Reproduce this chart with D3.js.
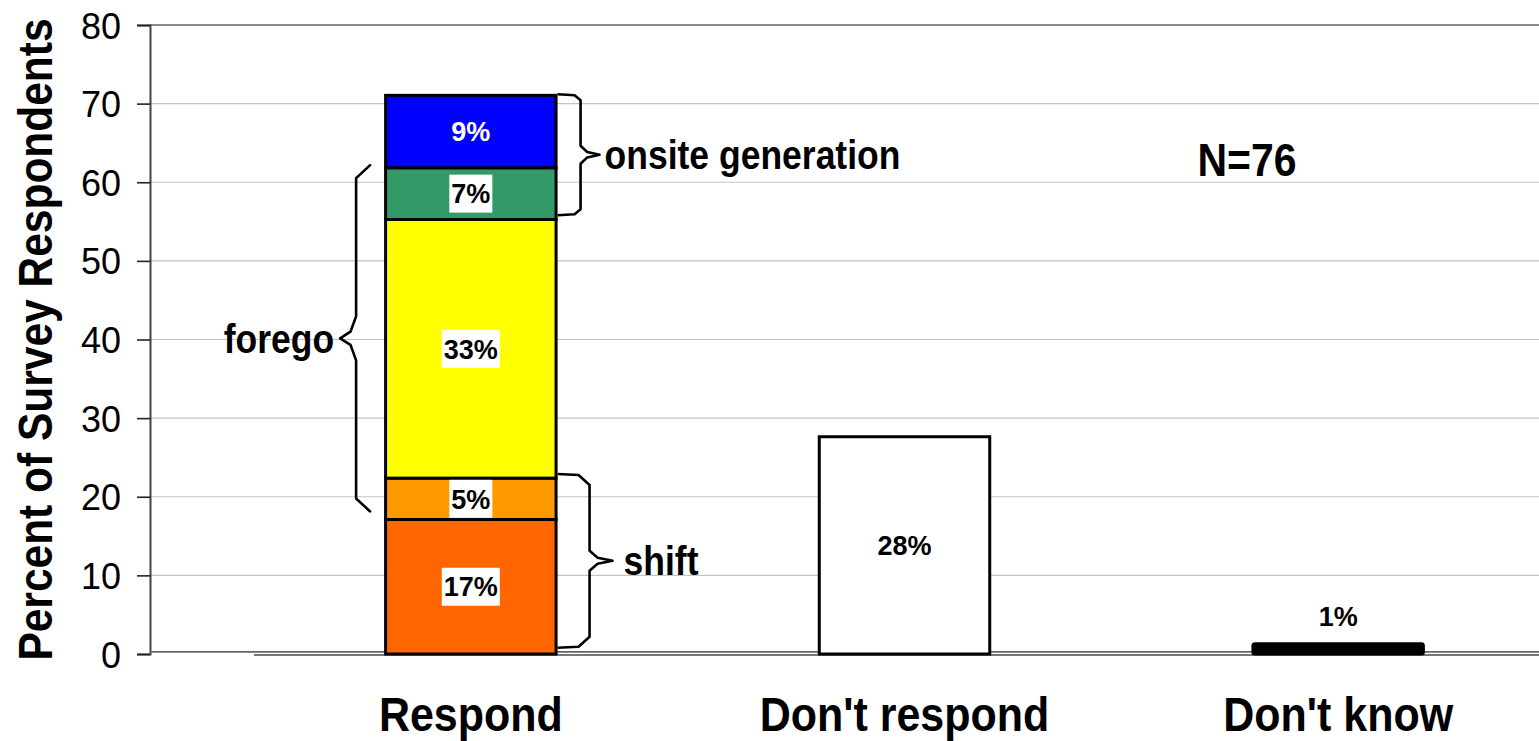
<!DOCTYPE html>
<html>
<head>
<meta charset="utf-8">
<script src="https://cdn.jsdelivr.net/npm/d3@7"></script>
<style>
  html, body { margin: 0; padding: 0; background: #fff; }
  svg { display: block; font-family: "Liberation Sans", Arial, sans-serif; }
</style>
</head>
<body>
<svg id="chart" width="1539" height="741"></svg>
<script>
// Survey answers (respondent counts)
const categories = ["Respond", "Don't respond", "Don't know"];
// "Respond" split, bottom to top
const respondKeys = ["shift", "shiftForego", "forego", "foregoOnsite", "onsite"];
const respondCounts = [13, 4, 25, 5, 7];
const dontRespondCount = 21;
const dontKnowCount = 1;
const yTicks = [0, 10, 20, 30, 40, 50, 60, 70, 80];

// Bracket spans, in percent of respondents
const braceLabels = ["onsite generation", "shift", "forego"];
const braceSpans = [[55.8, 71.2], [0.8, 22.9], [18.0, 62.3]];

const segmentColors = ["#FF6600", "#FF9900", "#FFFF00", "#339966", "#0000FF"];

const total = d3.sum(respondCounts) + dontRespondCount + dontKnowCount;
const pct = c => c / total * 100;
const fmt = v => d3.format(".0f")(v) + "%";

// table for d3.stack: one row per category
const keys = [...respondKeys, "none", "unknown"];
const rows = categories.map(cat => {
  const r = { cat };
  keys.forEach(k => r[k] = 0);
  return r;
});
respondKeys.forEach((k, i) => rows[0][k] = pct(respondCounts[i]));
rows[1].none = pct(dontRespondCount);
rows[2].unknown = pct(dontKnowCount);
const series = d3.stack().keys(keys)(rows);

const fills = {};
respondKeys.forEach((k, i) => fills[k] = segmentColors[i]);
fills.none = "#FFFFFF";
fills.unknown = "#000000";

const svg = d3.select("#chart");
const x0 = 150, y0 = 654, y1 = 25, xEnd = 1539;
const tall = 1.12; // glyphs are drawn slightly taller than wide

const x = d3.scaleBand().domain(categories).range([254, 1555])
  .paddingInner(0.6).paddingOuter(0.3);
const y = d3.scaleLinear().domain([0, 80]).range([y0, y1]);

// text placed at (px, py), stretched vertically
function tallText(parent, px, py, str, size, anchor, rot, stretch = tall) {
  const tr = rot ? `translate(${px},${py}) rotate(${rot}) scale(1,${stretch})`
                 : `translate(${px},${py}) scale(1,${stretch})`;
  return parent.append("text").attr("transform", tr)
    .attr("text-anchor", anchor).attr("font-size", size).text(str);
}

// gridlines
svg.append("g").selectAll("line").data(yTicks.filter(t => t > 0 && t < 80)).join("line")
  .attr("x1", x0).attr("x2", xEnd)
  .attr("y1", d => y(d)).attr("y2", d => y(d))
  .attr("stroke", "#c4c4c4").attr("stroke-width", 1.2);
// top border line
svg.append("line").attr("x1", x0).attr("x2", xEnd).attr("y1", y(80)).attr("y2", y(80))
  .attr("stroke", "#8a8a8a").attr("stroke-width", 2.2);

// y axis
const yAxis = d3.axisLeft(y).tickValues(yTicks).tickSize(13).tickFormat("");
const gy = svg.append("g").attr("transform", `translate(${x0},0)`).call(yAxis);
gy.select(".domain").attr("stroke", "#444").attr("stroke-width", 2);
gy.selectAll(".tick line").attr("stroke", "#222").attr("stroke-width", 1.6);
gy.selectAll(".tick").each(function (d) {
  tallText(d3.select(this), -29, 0, d, 36, "end", 0, 1.04).attr("dy", "0.35em").attr("fill", "#000");
});

// baseline
svg.append("line").attr("x1", x0).attr("x2", xEnd).attr("y1", y(0) - 2.2).attr("y2", y(0) - 2.2)
  .attr("stroke", "#666").attr("stroke-width", 1.8);
svg.append("line").attr("x1", x.range()[0]).attr("x2", xEnd).attr("y1", y(0) + 1).attr("y2", y(0) + 1)
  .attr("stroke", "#777").attr("stroke-width", 2.2);

// bars
const sw = 3;
const segs = [];
series.forEach(s => s.forEach(d => {
  if (d[1] - d[0] > 0) segs.push({ key: s.key, cat: d.data.cat, lo: d[0], hi: d[1], v: d[1] - d[0] });
}));
svg.append("g").selectAll("rect").data(segs).join("rect")
  .attr("x", d => x(d.cat) + sw / 2)
  .attr("width", x.bandwidth() - sw)
  .attr("y", d => y(d.hi))
  .attr("height", d => y(d.lo) - y(d.hi))
  .attr("fill", d => fills[d.key])
  .attr("stroke", "#000").attr("stroke-width", sw)
  .attr("rx", d => d.key === "unknown" ? 2 : 0);

// value labels
const lab = svg.append("g").attr("font-weight", "bold").attr("font-size", 27);
segs.forEach(d => {
  const cx = x(d.cat) + x.bandwidth() / 2;
  const outside = d.key === "unknown";
  const cy = outside ? y(d.hi) - 27 : (y(d.lo) + y(d.hi)) / 2;
  const isTop = d.key === "onsite";
  const t = lab.append("text").attr("x", cx).attr("y", cy)
    .attr("text-anchor", "middle").attr("dy", "0.36em")
    .attr("fill", isTop ? "#fff" : "#000").text(fmt(d.v));
  if (d.cat === "Respond" && !isTop) {
    const b = t.node().getBBox();
    lab.insert("rect", () => t.node())
      .attr("x", b.x - 2).attr("y", cy - 19).attr("width", b.width + 4).attr("height", 38)
      .attr("fill", "#fff");
  }
});

// category labels
const gc = svg.append("g").attr("font-weight", "bold");
categories.forEach(c => tallText(gc, x(c) + x.bandwidth() / 2, 731, c, 43, "middle"));

// y title
tallText(svg, 52, (y0 + y1) / 2, "Percent of Survey Respondents", 42.5, "middle", -90)
  .attr("font-weight", "bold");

// N label
tallText(svg, 1247, 176, "N=" + total, 41, "middle").attr("font-weight", "bold");

// curly brackets
function bracePts(xa, yt, yb, dir, arm, tip, c, k) {
  const ym = (yt + yb) / 2, xv = xa + dir * arm;
  return [
    [xa, yt], [xv - dir * c, yt + 1], [xv, yt + c], [xv, ym - k],
    [xv + dir * (tip - arm) * 0.35, ym - k * 0.3], [xa + dir * tip, ym],
    [xv + dir * (tip - arm) * 0.35, ym + k * 0.3], [xv, ym + k],
    [xv, yb - c], [xv - dir * c, yb - 1], [xa, yb]
  ];
}
const barL = x("Respond"), barR = x("Respond") + x.bandwidth();
const braceCfg = [
  { xa: barR, dir: 1, arm: 23, tip: 42, c: 6, k: 9, gap: 5 },
  { xa: barR, dir: 1, arm: 32, tip: 55, c: 11, k: 10, gap: 11 },
  { xa: barL - 14, dir: -1, arm: 14, tip: 30, c: 14, k: 22, gap: 6 }
];
const line = d3.line();
const gb = svg.append("g").attr("font-weight", "bold");
braceLabels.forEach((txt, i) => {
  const cfg = braceCfg[i];
  const yt = y(braceSpans[i][1]), yb = y(braceSpans[i][0]);
  gb.append("path").attr("d", line(bracePts(cfg.xa, yt, yb, cfg.dir, cfg.arm, cfg.tip, cfg.c, cfg.k)))
    .attr("fill", "none").attr("stroke", "#000").attr("stroke-width", 2.6)
    .attr("stroke-linejoin", "round");
  tallText(gb, cfg.xa + cfg.dir * (cfg.tip + cfg.gap), (yt + yb) / 2, txt, 35.5,
    cfg.dir > 0 ? "start" : "end").attr("dy", "0.36em");
});
</script>
</body>
</html>
